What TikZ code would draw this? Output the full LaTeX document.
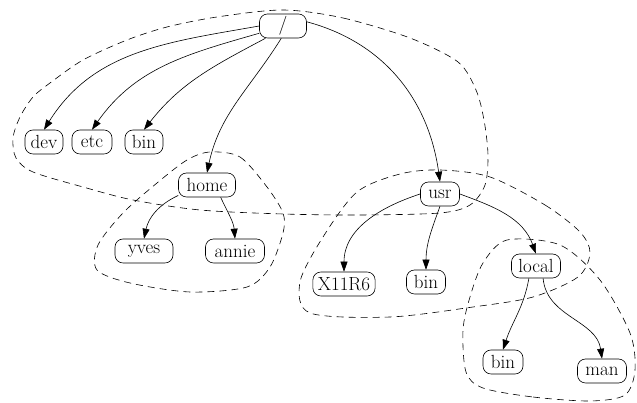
\documentclass[tikz,border=0pt]{standalone}
\usepackage{fontspec}
\usetikzlibrary{arrows.meta}

\begin{document}
\begin{tikzpicture}[x=1pt, y=1pt,
    dir/.style={draw, rounded corners=8pt, line width=0.6pt, minimum height=24pt,
      minimum width=39pt, inner xsep=5pt, inner ysep=2pt,
      font=\fontsize{19}{22}\selectfont},
    link/.style={-{Triangle[length=10pt,width=7pt]}, line width=0.6pt},
    group/.style={dashed, dash pattern=on 7pt off 5pt, line width=0.6pt}]
%      \draw [help lines] (0,0) grid[step=50] (637,403);
      \useasboundingbox (0,0) rectangle (637,403);

      % directories
      \node [dir, minimum width=47pt] (root) at (283,377) {/};
      \node [dir, minimum width=38pt] (dev) at (44,261) {dev};
      \node [dir, minimum width=40pt] (etc) at (92,261) {etc};
      \node [dir, minimum width=38pt] (bin) at (144,261) {bin};
      \node [dir, minimum width=57pt] (home) at (207,218) {home};
      \node [dir] (usr) at (440,209) {usr};
      \node [dir, minimum width=58pt] (yves) at (144,152) {yves};
      \node [dir, minimum width=59pt] (annie) at (235,152) {annie};
      \node [dir] (x11) at (344,119) {X11R6};
      \node [dir] (usrbin) at (426,121) {bin};
      \node [dir, minimum width=49pt] (local) at (536,137) {local};
      \node [dir, minimum width=40pt] (localbin) at (503,41) {bin};
      \node [dir, minimum width=49pt] (man) at (602,32) {man};

      % links
      \draw [link] (root.west) to [out=190,in=58] (dev.north);
      \draw [link] (root.197) to [out=196,in=55] (etc.north);
      \draw [link] (root.215) to [out=208,in=52] (bin.north);
      \draw [link] (root.262) to [out=238,in=78] (home.north);
      \draw [link] (root.10) to [out=-15,in=98] (usr.north);
      \draw [link] (home.200) to [out=205,in=78] (yves.north);
      \draw [link] (home.318) to [out=-65,in=95] (annie.north);
      \draw [link] (usr.west) to [out=198,in=90] (x11.north);
      \draw [link] (usr.south) to [out=250,in=90] (usrbin.north);
      \draw [link] (usr.east) to [out=-20,in=110] (local.north);
      \draw [link] (local.240) to [out=260,in=72] (localbin.north);
      \draw [link] (local.300) to [out=275,in=98] (man.north);

      % groups
      \draw [group] plot [smooth cycle] coordinates {(283,393) (343,385) (410,365) (458,341)
        (476,313) (484,283) (488,248) (485,218) (470,198) (440,190) (360,188) (283,189)
        (200,193) (133,203) (83,216) (33,231) (16,245) (13,265) (20,286) (33,306)
        (50,320) (83,343) (127,363) (167,376) (217,386)};
      \draw [group] plot [smooth cycle] coordinates {(210,251) (240,246) (267,216) (283,190)
        (283,170) (270,136) (247,116) (190,111) (130,120) (97,133) (98,158) (123,190)
        (157,220) (187,243)};
      \draw [group] plot [smooth cycle] coordinates {(490,226) (545,198) (580,171) (590,150)
        (578,126) (533,106) (473,96) (390,86) (310,90) (300,121) (323,166) (357,211)
        (400,229) (440,233)};
      \draw [group] plot [smooth cycle] coordinates {(483,15) (533,6) (590,2) (625,8)
        (635,33) (630,70) (600,123) (560,158) (507,163) (483,140) (470,106) (463,73)
        (466,31)};
\end{tikzpicture}
\end{document}
